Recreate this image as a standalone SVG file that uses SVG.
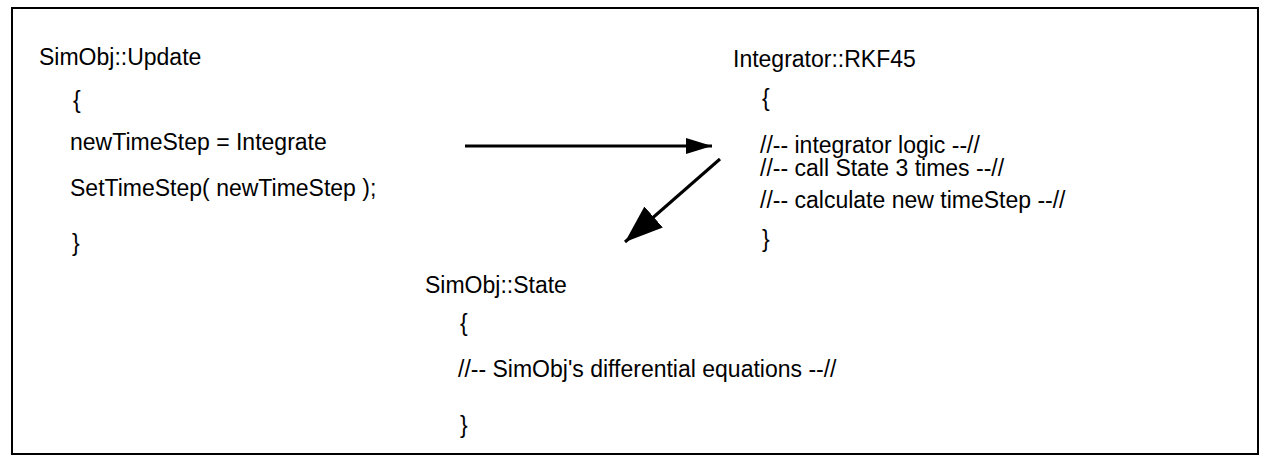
<svg xmlns="http://www.w3.org/2000/svg" width="1265" height="461" viewBox="0 0 1265 461">
<style>
  text { font-family: "Liberation Sans", Arial, sans-serif; font-size: 23px; fill: #000; }
  .frame { fill: #fff; stroke: #000; stroke-width: 2; }
  .conn { stroke: #000; stroke-width: 3; fill: none; }
</style>
<defs>
  <marker id="headS" markerUnits="userSpaceOnUse" markerWidth="30" markerHeight="20" refX="26" refY="8" orient="auto">
    <path d="M0,0 L26,8 L0,16 Z" fill="#000"/>
  </marker>
  <marker id="headL" markerUnits="userSpaceOnUse" markerWidth="42" markerHeight="30" refX="38" refY="14" orient="auto">
    <path d="M0,0 L38,14 L0,28 Z" fill="#000"/>
  </marker>
</defs>
<rect class="frame" x="12" y="8" width="1246" height="446"/>
<g id="update">
  <text x="39" y="65">SimObj::Update</text>
  <text x="73" y="108">{</text>
  <text x="70" y="150">newTimeStep = Integrate</text>
  <text x="70" y="196">SetTimeStep( newTimeStep );</text>
  <text x="72" y="251">}</text>
</g>
<g id="rkf45">
  <text x="733" y="67">Integrator::RKF45</text>
  <text x="762" y="106">{</text>
  <text x="760" y="153">//-- integrator logic --//</text>
  <text x="760" y="176">//-- call State 3 times --//</text>
  <text x="760" y="208">//-- calculate new timeStep --//</text>
  <text x="762" y="247">}</text>
</g>
<g id="state">
  <text x="425" y="293">SimObj::State</text>
  <text x="460" y="331">{</text>
  <text x="458" y="377">//-- SimObj's differential equations --//</text>
  <text x="460" y="433">}</text>
</g>
<g id="connectors">
  <line class="conn" x1="465" y1="146" x2="712" y2="146" marker-end="url(#headS)"/>
  <line class="conn" x1="720" y1="159" x2="625" y2="242" marker-end="url(#headL)"/>
</g>
</svg>
